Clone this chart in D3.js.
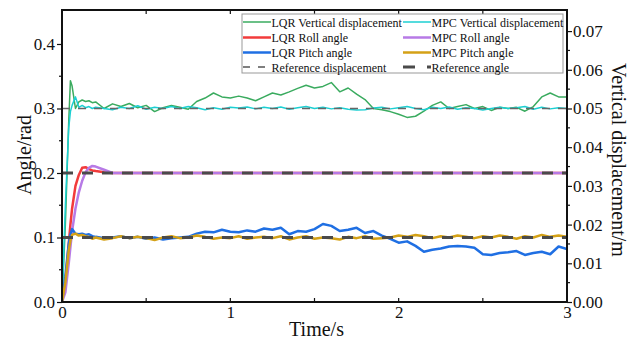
<!DOCTYPE html>
<html><head><meta charset="utf-8">
<script src="https://cdn.jsdelivr.net/npm/d3@7"></script>
<style>body{margin:0;background:#fff}svg{display:block}text{font-family:"Liberation Serif","Times New Roman",serif}</style>
</head><body><svg id="c" width="632" height="343"></svg>
<script>
// ---- data ----
const time = [0,0.02,0.04,0.05,0.06,0.08,0.10,0.12,0.14,0.16,0.18,0.20,
  0.25,0.30,0.35,0.40,0.45,0.50,0.55,0.60,0.65,0.70,0.75,0.80,0.85,0.90,0.95,1.00,
  1.05,1.10,1.15,1.20,1.25,1.30,1.35,1.40,1.45,1.50,1.55,1.60,1.65,1.70,1.75,1.80,1.85,1.90,1.95,2.00,
  2.05,2.10,2.15,2.20,2.25,2.30,2.35,2.40,2.45,2.50,2.55,2.60,2.65,2.70,2.75,2.80,2.85,2.90,2.95,3.00];
// vertical displacement (m), right axis
const lqrDisp = [0,0.02,0.0467,0.0572,0.0558,0.05,0.0517,0.0522,0.0518,0.052,0.0515,0.0517,
  0.05,0.0512,0.0505,0.0513,0.0502,0.0508,0.0492,0.0502,0.0508,0.0503,0.0498,0.0518,0.0527,0.054,0.053,0.0527,
  0.0532,0.0527,0.052,0.053,0.054,0.0535,0.0543,0.0552,0.056,0.0553,0.0557,0.0567,0.0543,0.0553,0.0537,0.0523,0.05,0.0497,0.0492,0.0485,
  0.0477,0.048,0.0493,0.0508,0.0517,0.05,0.0505,0.051,0.05,0.0505,0.0495,0.0503,0.05,0.0503,0.0493,0.0505,0.053,0.054,0.053,0.053];
const mpcDisp = [0,0.025,0.045,0.0492,0.0508,0.053,0.0503,0.0508,0.0502,0.0505,0.05,0.0503,
  0.05,0.0497,0.0503,0.05,0.0507,0.0498,0.0503,0.05,0.0505,0.05,0.0505,0.0502,0.0497,0.0502,0.0498,0.0503,
  0.0501,0.0504,0.0499,0.0503,0.05,0.0504,0.0498,0.0502,0.0505,0.05,0.0503,0.0499,0.0502,0.0498,0.0496,0.0497,0.0501,0.0503,0.0499,0.0502,
  0.0505,0.05,0.0497,0.0503,0.05,0.0504,0.0498,0.0502,0.05,0.0496,0.05,0.0503,0.05,0.0502,0.0505,0.0498,0.0503,0.0499,0.0502,0.05];
// roll angles (rad), left axis
const rollTime = [0,0.02,0.04,0.05,0.06,0.08,0.10,0.12,0.14,0.16,0.18,0.20,0.25,0.30,3.00];
const lqrRoll = [0,0.03,0.09,0.12,0.145,0.18,0.197,0.208,0.209,0.206,0.204,0.203,0.201,0.2,0.2];
const mpcRoll = [0,0.015,0.06,0.085,0.11,0.145,0.17,0.188,0.201,0.208,0.211,0.21,0.205,0.2,0.2];
// pitch angles (rad), left axis
const lqrPitch = [0,0.04,0.09,0.105,0.113,0.106,0.105,0.106,0.104,0.105,0.102,0.101,
  0.099,0.100,0.102,0.099,0.101,0.098,0.100,0.097,0.099,0.100,0.101,0.106,0.109,0.108,0.112,0.109,
  0.108,0.111,0.109,0.114,0.112,0.115,0.105,0.110,0.109,0.113,0.121,0.118,0.110,0.112,0.115,0.107,0.110,0.103,0.098,0.092,
  0.094,0.087,0.078,0.081,0.083,0.086,0.087,0.086,0.084,0.074,0.073,0.076,0.077,0.079,0.073,0.076,0.078,0.074,0.086,0.082];
const mpcPitch = [0,0.03,0.08,0.095,0.104,0.106,0.103,0.104,0.102,0.101,0.098,0.100,
  0.097,0.099,0.102,0.099,0.101,0.099,0.096,0.100,0.102,0.099,0.100,0.103,0.101,0.098,0.100,0.099,
  0.102,0.098,0.100,0.101,0.099,0.102,0.097,0.100,0.102,0.098,0.100,0.099,0.097,0.101,0.099,0.102,0.098,0.099,0.100,0.103,
  0.101,0.104,0.102,0.099,0.102,0.100,0.103,0.101,0.099,0.102,0.100,0.103,0.101,0.098,0.102,0.100,0.104,0.101,0.103,0.101];
const refDisp = 0.05;
const refAngles = [0.2, 0.1];
const xTickVals = [0,1,2,3];
const yLeftTicks = [0,0.1,0.2,0.3,0.4];
const yRightTicks = [0,0.01,0.02,0.03,0.04,0.05,0.06,0.07];

// ---- layout ----
const L = 62, R = 567, T = 10, B = 302;
const svg = d3.select("#c");
const x = d3.scaleLinear().domain([0,3]).range([L,R]);
const yL = d3.scaleLinear().domain([0,0.4527]).range([B,T]);
const yR = d3.scaleLinear().domain([0,0.4527/6]).range([B,T]);

svg.append("defs").append("clipPath").attr("id","clip").append("rect")
  .attr("x",L).attr("y",T).attr("width",R-L).attr("height",B-T);
const g = svg.append("g").attr("clip-path","url(#clip)");

const C = {lqrD:"#3aab5f", mpcD:"#1ccfd2", lqrR:"#f23b3b", mpcR:"#b77ae6", lqrP:"#1f6fe3", mpcP:"#d4a116"};

function draw(tArr, vArr, ys, color, w){
  const line = d3.line().x((d,i)=>x(tArr[i])).y(d=>ys(d));
  g.append("path").datum(vArr).attr("d",line).attr("fill","none")
    .attr("stroke",color).attr("stroke-width",w).attr("stroke-linejoin","round");
}
draw(time, lqrDisp, yR, C.lqrD, 1.5);
draw(time, mpcDisp, yR, C.mpcD, 1.5);
draw(rollTime, lqrRoll, yL, C.lqrR, 2.5);
draw(rollTime, mpcRoll, yL, C.mpcR, 2.5);
draw(time, lqrPitch, yL, C.lqrP, 2.5);
draw(time, mpcPitch, yL, C.mpcP, 2.5);
// references
g.append("line").attr("x1",x(0)).attr("x2",x(3)).attr("y1",yR(refDisp)).attr("y2",yR(refDisp))
  .attr("stroke","#666").attr("stroke-width",1.6).attr("stroke-dasharray","8,8");
refAngles.forEach(a=>{
  g.append("line").attr("x1",x(0)).attr("x2",x(3)).attr("y1",yL(a)).attr("y2",yL(a))
   .attr("stroke","#4a4a4a").attr("stroke-width",3).attr("stroke-dasharray","11,9");
});

// ---- axes ----
const fs = "17px";
const xb = svg.append("g").attr("transform",`translate(0,${B})`)
  .call(d3.axisBottom(x).tickValues(xTickVals).tickFormat(d3.format("d")).tickSize(0).tickPadding(4));
xb.select(".domain").remove();
xb.selectAll("text").attr("font-size",fs).attr("fill","#111").attr("font-family","Liberation Serif");
[0.5,1,1.5,2,2.5].forEach(v=>{
  svg.append("line").attr("x1",x(v)).attr("x2",x(v)).attr("y1",B).attr("y2",B-4).attr("stroke","#111").attr("stroke-width",1.2);
  svg.append("line").attr("x1",x(v)).attr("x2",x(v)).attr("y1",T).attr("y2",T+4).attr("stroke","#111").attr("stroke-width",1.2);
});
const yl = svg.append("g").attr("transform",`translate(${L},0)`)
  .call(d3.axisLeft(yL).tickValues(yLeftTicks).tickFormat(d3.format(".1f")).tickSize(5).tickPadding(2));
yl.select(".domain").remove();
yl.selectAll("text").attr("font-size",fs).attr("fill","#111").attr("font-family","Liberation Serif");
yl.selectAll("line").attr("stroke","#111").attr("stroke-width",1.2);
[0.05,0.15,0.25,0.35].forEach(v=>{
  svg.append("line").attr("x1",L-3).attr("x2",L).attr("y1",yL(v)).attr("y2",yL(v)).attr("stroke","#111").attr("stroke-width",1.2);
});
const yr = svg.append("g").attr("transform",`translate(${R},0)`)
  .call(d3.axisRight(yR).tickValues(yRightTicks).tickFormat(d3.format(".2f")).tickSize(5).tickPadding(1));
yr.select(".domain").remove();
yr.selectAll("text").attr("font-size",fs).attr("fill","#111").attr("font-family","Liberation Serif");
yr.selectAll("line").attr("stroke","#111").attr("stroke-width",1.2);
[0.005,0.015,0.025,0.035,0.045,0.055,0.065].forEach(v=>{
  svg.append("line").attr("x1",R).attr("x2",R+3).attr("y1",yR(v)).attr("y2",yR(v)).attr("stroke","#111").attr("stroke-width",1.2);
});
svg.append("rect").attr("x",L).attr("y",T).attr("width",R-L).attr("height",B-T)
  .attr("fill","none").attr("stroke","#111").attr("stroke-width",2);

// titles
svg.append("text").attr("x",(L+R)/2 + 2).attr("y",336).attr("text-anchor","middle")
  .attr("font-size","20px").attr("fill","#111").text("Time/s");
svg.append("text").attr("transform",`translate(31,155) rotate(-90)`).attr("text-anchor","middle")
  .attr("font-size","20px").attr("fill","#111").text("Angle/rad");
svg.append("text").attr("transform",`translate(612,160) rotate(90)`).attr("text-anchor","middle")
  .attr("font-size","20px").attr("fill","#111").text("Vertical displacement/m");

// ---- legend ----
const lg = svg.append("g");
lg.append("rect").attr("x",242).attr("y",14).attr("width",321).attr("height",59)
  .attr("fill","#fff").attr("stroke","#999").attr("stroke-width",1);
const legendItems = [
  {label:"LQR Vertical displacement", color:C.lqrD, w:1.5, dash:null, col:0, row:0},
  {label:"MPC Vertical displacement", color:C.mpcD, w:1.5, dash:null, col:1, row:0},
  {label:"LQR Roll angle", color:C.lqrR, w:2.5, dash:null, col:0, row:1},
  {label:"MPC Roll angle", color:C.mpcR, w:2.5, dash:null, col:1, row:1},
  {label:"LQR Pitch angle", color:C.lqrP, w:2.5, dash:null, col:0, row:2},
  {label:"MPC Pitch angle", color:C.mpcP, w:2.5, dash:null, col:1, row:2},
  {label:"Reference displacement", color:"#555", w:1.6, dash:"7,8", col:0, row:3},
  {label:"Reference angle", color:"#4a4a4a", w:3, dash:"12,12", col:1, row:3}
];
const colX = [243, 403], rowY = [22, 37.5, 52.5, 67];
legendItems.forEach(it=>{
  const x0 = colX[it.col], y0 = rowY[it.row];
  const ln = lg.append("line").attr("x1",x0).attr("x2",x0+28).attr("y1",y0).attr("y2",y0)
    .attr("stroke",it.color).attr("stroke-width",it.w);
  if(it.dash) ln.attr("stroke-dasharray",it.dash);
  lg.append("text").attr("x",x0+28.5).attr("y",y0+4.5).attr("font-size","12px").attr("fill","#111").text(it.label);
});
</script></body></html>
